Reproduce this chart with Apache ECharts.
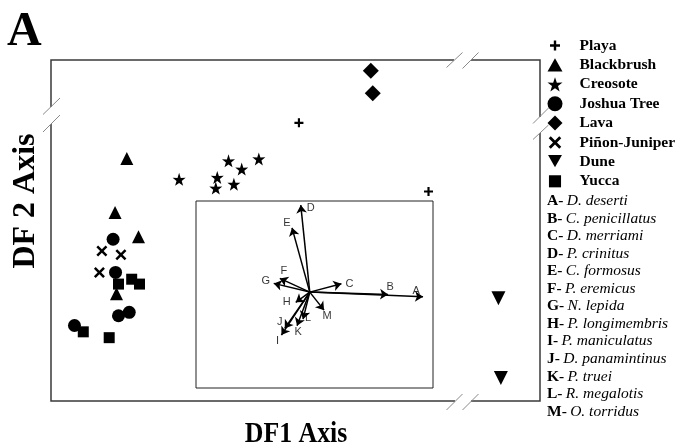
<!DOCTYPE html>
<html>
<head>
<meta charset="utf-8">
<script src="https://cdn.jsdelivr.net/npm/echarts@6/dist/echarts.min.js"></script>
<style>html,body{margin:0;padding:0;background:#fff}#main{width:678px;height:448px}</style>
</head>
<body>
<div id="main"></div>
<script>
// DF1 / DF2 scores (arbitrary 0-100 / 0-70 scale)
var playa = [[50.7,57.1],[77.2,43.0]];
var blackbrush = [[15.5,49.8],[13.1,38.7],[17.9,33.7],[13.4,22.0]];
var creosote = [[26.2,45.5],[36.3,49.3],[42.5,49.7],[39.0,47.6],[34.0,45.9],[33.7,43.7],[37.4,44.5]];
var joshuaTree = [[12.7,33.2],[13.2,26.4],[13.8,17.5],[16.0,18.2],[4.8,15.5]];
var lava = [[65.4,67.8],[65.8,63.2]];
var pinonJuniper = [[10.4,30.8],[14.3,30.0],[9.9,26.4]];
var dune = [[91.5,21.1],[92.0,4.7]];
var yucca = [[13.8,24.0],[16.5,25.0],[18.1,24.0],[6.6,14.2],[11.9,13.0]];

var habitats = ['Playa','Blackbrush','Creosote','Joshua Tree','Lava','Piñon-Juniper','Dune','Yucca'];

// species loadings (inset)
var speciesCodes = ['A','B','C','D','E','F','G','H','I','J','K','L','M'];
var speciesNames = ['D. deserti','C. penicillatus','D. merriami','P. crinitus','C. formosus','P. eremicus',
  'N. lepida','P. longimembris','P. maniculatus','D. panamintinus','P. truei','R. megalotis','O. torridus'];
var loadX = [1.195,0.826,0.334,-0.095,-0.187,-0.316,-0.380,-0.148,-0.299,-0.264,-0.134,-0.071,0.151];
var loadY = [-0.049,-0.024,0.087,0.907,0.670,0.143,0.091,-0.107,-0.448,-0.379,-0.351,-0.282,-0.188];

var SERIF = '"Liberation Serif","Times New Roman",serif';

var STAR = 'M50,0 L61.8,35.1 L97.6,34.5 L69.1,56.4 L79.4,90.5 L50,70 L20.6,90.5 L30.9,56.4 L2.4,34.5 L38.2,35.1 Z';
var PLUS = 'M38,0H62V38H100V62H62V100H38V62H0V38H38Z';
var CROSS = 'M0,16 L16,0 L50,34 L84,0 L100,16 L66,50 L100,84 L84,100 L50,66 L16,100 L0,84 L34,50 Z';
var SQUARE = 'M0,0H100V100H0Z';
var TRI_UP = 'M50,0L100,88H0Z';
var TRI_DOWN = 'M0,0H100L50,88Z';
var DIAMOND = 'M50,0L100,50L50,100L0,50Z';

var sets = [playa, blackbrush, creosote, joshuaTree, lava, pinonJuniper, dune, yucca];
var symbols = ['path://' + PLUS, 'path://' + TRI_UP, 'path://' + STAR, 'circle', 'path://' + DIAMOND,
  'path://' + CROSS, 'path://' + TRI_DOWN, 'path://' + SQUARE];
var sizes = [9, 13, 13, 13, 16, 11, 14, 11];
// legend icons, padded so they come out at different sizes
var legendIcons = [
  'path://M-25,-25M125,125' + PLUS,
  'path://' + TRI_UP,
  'path://' + STAR,
  'circle',
  'path://' + DIAMOND,
  'path://M-10,-10M110,110' + CROSS,
  'path://M-4,-4M104,104' + TRI_DOWN,
  'path://M-12,-12M112,112' + SQUARE
];

var series = [];
for (var i = 0; i < habitats.length; i++) {
  series.push({
    name: habitats[i],
    type: 'scatter',
    xAxisIndex: 0, yAxisIndex: 0,
    symbol: symbols[i],
    symbolSize: sizes[i],
    itemStyle: {color: '#000', opacity: 1},
    data: sets[i],
    z: 5
  });
}

// inset: arrows from origin to loadings
var arrows = [];
var tips = [];
var labelOffset = {A:[-7,-6],B:[2,-7],C:[8,0],D:[10,3],E:[-5,-5],F:[4,-7],G:[-8,-2],
  H:[-9,0],I:[-4,6],J:[-5,-6],K:[1,6],L:[5,-1],M:[3,6]};
for (var j = 0; j < speciesCodes.length; j++) {
  arrows.push({coords: [[0,0],[loadX[j], loadY[j]]]});
  tips.push({
    value: [loadX[j], loadY[j]],
    label: {show: true, position: 'inside', offset: labelOffset[speciesCodes[j]], formatter: speciesCodes[j]}
  });
}
series.push({
  type: 'lines',
  coordinateSystem: 'cartesian2d',
  xAxisIndex: 1, yAxisIndex: 1,
  symbol: ['none','arrow'],
  symbolSize: 8,
  lineStyle: {color: '#000', width: 1.5, opacity: 1, curveness: 0},
  data: arrows,
  z: 6
});
series.push({
  type: 'scatter',
  xAxisIndex: 1, yAxisIndex: 1,
  symbolSize: 1,
  itemStyle: {color: 'transparent'},
  label: {color: '#000', fontFamily: '"Liberation Sans",Arial,sans-serif', fontSize: 11},
  data: tips,
  silent: true,
  z: 7
});

// frame with axis breaks
var frameStyle = {stroke: '#3a3a3a', lineWidth: 1.5, fill: null};
var slashStyle = {stroke: '#8a8a8a', lineWidth: 1};
var graphics = [
  {type:'polyline', shape:{points:[[51,107],[51,60],[454,60]]}, style: frameStyle},
  {type:'polyline', shape:{points:[[471,60],[540,60],[540,117]]}, style: frameStyle},
  {type:'polyline', shape:{points:[[540,133],[540,401],[471,401]]}, style: frameStyle},
  {type:'polyline', shape:{points:[[455,401],[51,401],[51,124]]}, style: frameStyle},
  {type:'line', shape:{x1:43,y1:114.5,x2:60,y2:98}, style: slashStyle},
  {type:'line', shape:{x1:43,y1:132,x2:60,y2:115}, style: slashStyle},
  {type:'line', shape:{x1:446.5,y1:67.5,x2:462.5,y2:52.5}, style: slashStyle},
  {type:'line', shape:{x1:462.5,y1:68.5,x2:478.5,y2:52.5}, style: slashStyle},
  {type:'line', shape:{x1:533,y1:123.5,x2:548.5,y2:108}, style: slashStyle},
  {type:'line', shape:{x1:533,y1:139.5,x2:548.5,y2:125}, style: slashStyle},
  {type:'line', shape:{x1:446.5,y1:410,x2:462.5,y2:394}, style: slashStyle},
  {type:'line', shape:{x1:462.5,y1:410,x2:478.5,y2:394}, style: slashStyle},
  {type:'text', x:7, y:9, style:{text:'A', font:'bold 48px ' + SERIF, fill:'#000'}},
  {type:'text', x:26, y:201, rotation: Math.PI/2,
    style:{text:'DF 2 Axis', font:'bold 32px ' + SERIF, fill:'#000', textAlign:'center', textVerticalAlign:'middle'}},
  {type:'text', x:296, y:434, scaleX: 0.86,
    style:{text:'DF1 Axis', font:'bold 30px ' + SERIF, fill:'#000', textAlign:'center', textVerticalAlign:'middle'}}
];
for (var k = 0; k < speciesCodes.length; k++) {
  graphics.push({
    type: 'text', x: 547, y: 201 + k * 17.55,
    style: {
      text: '{c|' + speciesCodes[k] + '-} {n|' + speciesNames[k] + '}',
      textVerticalAlign: 'middle',
      rich: {
        c: {fontFamily: SERIF, fontWeight: 'bold', fontSize: 15.5, fill: '#000'},
        n: {fontFamily: SERIF, fontStyle: 'italic', fontSize: 15.5, fill: '#000'}
      }
    }
  });
}

var legendData = [];
for (var m = 0; m < habitats.length; m++) {
  legendData.push({name: habitats[m], icon: legendIcons[m]});
}

var chart = echarts.init(document.getElementById('main'));
chart.setOption({
  animation: false,
  backgroundColor: '#fff',
  grid: [
    {left: 51, top: 60, width: 489, height: 341, show: false},
    {left: 196, top: 201, width: 237, height: 187, show: true, borderColor: '#222', borderWidth: 1, backgroundColor: '#fff', z: 3}
  ],
  xAxis: [
    {gridIndex: 0, type: 'value', min: 0, max: 100, show: false},
    {gridIndex: 1, type: 'value', min: -1.2, max: 1.3, show: false}
  ],
  yAxis: [
    {gridIndex: 0, type: 'value', min: 0, max: 70, show: false},
    {gridIndex: 1, type: 'value', min: -1.0, max: 0.95, show: false}
  ],
  legend: {
    orient: 'vertical',
    left: 547.5, top: 37.5,
    padding: 0,
    itemWidth: 15, itemHeight: 15, itemGap: 3.4,
    selectedMode: false,
    textStyle: {fontFamily: SERIF, fontWeight: 'bold', fontSize: 15.5, lineHeight: 15, color: '#000', padding: [0,0,0,12]},
    data: legendData
  },
  graphic: graphics,
  series: series
});
</script>
</body>
</html>
